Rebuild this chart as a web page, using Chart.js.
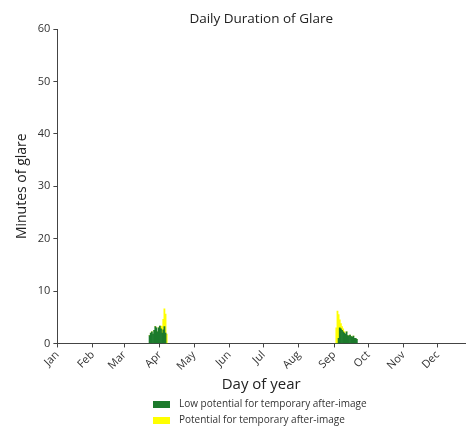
<!DOCTYPE html>
<html lang="en">
  <head>
    <meta charset="UTF-8" />
    <title>Daily Duration of Glare</title>
    <style>
      body { margin: 0; background: #fff; }
      .wrap { position: relative; width: 467px; height: 430px; }
      #title { position: absolute; top: 9px; font: 13.5px "Open Sans", sans-serif; color: #222; white-space: nowrap; transform: translateX(-50%); }
      #legend { position: absolute; left: 153px; top: 395px; font: 10px "Open Sans", sans-serif; color: #333; }
      #legend div { height: 16px; line-height: 16px; }
      #legend span { display: inline-block; width: 17px; height: 7px; margin-right: 9px; vertical-align: middle; }
    </style>
  </head>
  <body>
    <div class="wrap">
      <canvas id="myChart" width="467" height="430"></canvas>
      <div id="title">Daily Duration of Glare</div>
      <div id="legend"></div>
    </div>

    <script src="https://cdn.jsdelivr.net/npm/chart.js"></script>
    <script>
      const monthNames = ["Jan", "Feb", "Mar", "Apr", "May", "Jun", "Jul", "Aug", "Sep", "Oct", "Nov", "Dec"];
      const monthStarts = [0, 31, 59, 90, 120, 151, 181, 212, 243, 273, 304, 334];

      // spring glare window, minutes per day starting at day 81
      const springStart = 81;
      const springLow = [1.5, 2.0, 2.2, 1.8, 2.5, 3.2, 3.0, 2.2, 3.0, 3.3, 2.8, 2.0, 2.6, 3.2, 2.0, 0];
      const springPotential = [0, 0, 0, 0, 0, 0, 0, 0, 0, 0, 0.5, 1.2, 2.0, 3.4, 3.6, 1.8];

      // autumn glare window, starting at day 245
      const fallStart = 245;
      const fallLow = [0, 0, 1.0, 3.0, 2.8, 2.5, 2.2, 2.0, 1.8, 2.2, 1.5, 1.4, 1.6, 1.3, 1.2, 1.4, 1.0, 1.0, 0.8];
      const fallPotential = [3.0, 6.2, 4.5, 1.5, 1.0, 0.7, 0.6, 0.2, 0, 0, 0, 0, 0, 0, 0, 0, 0, 0, 0];

      function toPoints(start, values) {
        return values.map(function(v, i) {
          return { x: start + i, y: v };
        });
      }

      const lowData = toPoints(springStart, springLow).concat(toPoints(fallStart, fallLow));
      const potentialData = toPoints(springStart, springPotential).concat(toPoints(fallStart, fallPotential));

      const fam = "'Open Sans', sans-serif";
      const ctx = document.getElementById("myChart");

      const myChart = new Chart(ctx, {
        type: "bar",
        data: {
          datasets: [
            {
              label: "Low potential for temporary after-image",
              data: lowData,
              backgroundColor: "#1c7a2c",
              barPercentage: 1,
              categoryPercentage: 1,
            },
            {
              label: "Potential for temporary after-image",
              data: potentialData,
              backgroundColor: "#ffff00",
              barPercentage: 1,
              categoryPercentage: 1,
            },
          ],
        },
        options: {
          responsive: false,
          animation: false,
          layout: { padding: { left: 10, right: 2, top: 29, bottom: 32 } },
          plugins: {
            legend: { display: false },
            tooltip: { enabled: false },
          },
          scales: {
            x: {
              type: "linear",
              stacked: true,
              offset: false,
              min: 0,
              max: 358,
              afterBuildTicks: function(axis) {
                axis.ticks = monthStarts.map(function(v) { return { value: v }; });
              },
              ticks: {
                callback: function(value) {
                  return monthNames[monthStarts.indexOf(value)];
                },
                minRotation: 45,
                maxRotation: 45,
                color: "#333",
                font: { family: fam, size: 11 },
                padding: 1,
              },
              grid: { drawOnChartArea: false, offset: false, tickLength: 4, color: "#444" },
              border: { color: "#444" },
              title: {
                display: true,
                text: "Day of year",
                color: "#222",
                font: { family: fam, size: 15 },
                padding: { top: 2 },
              },
            },
            y: {
              stacked: true,
              min: 0,
              max: 60,
              ticks: {
                stepSize: 10,
                color: "#333",
                font: { family: fam, size: 11 },
                padding: 3,
              },
              grid: { drawOnChartArea: false, tickLength: 4, color: "#444" },
              border: { color: "#444" },
              title: {
                display: true,
                text: "Minutes of glare",
                color: "#222",
                font: { family: fam, size: 14 },
                padding: { bottom: 4 },
              },
            },
          },
        },
      });

      // title centred over the plot area
      const area = myChart.chartArea;
      document.getElementById("title").style.left = ((area.left + area.right) / 2) + "px";

      // legend stacked vertically below the axis title
      const legend = document.getElementById("legend");
      myChart.data.datasets.forEach(function(ds) {
        const row = document.createElement("div");
        row.innerHTML = '<span style="background:' + ds.backgroundColor + '"></span>' + ds.label;
        legend.appendChild(row);
      });
    </script>
  </body>
</html>
